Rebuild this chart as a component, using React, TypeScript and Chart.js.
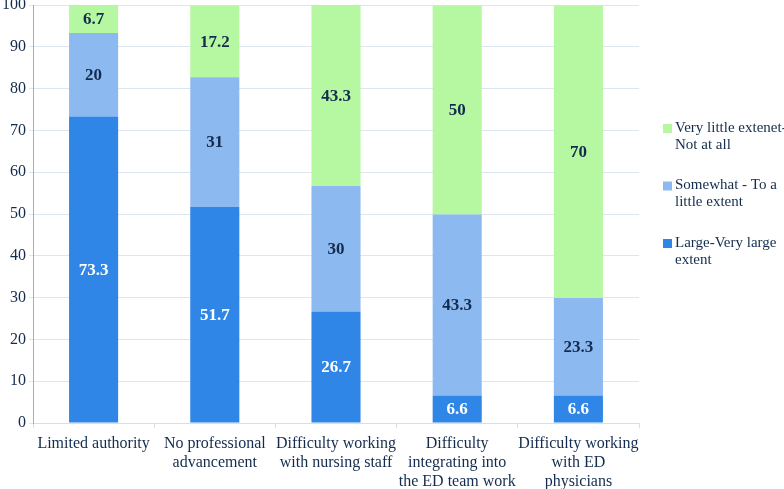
import React, { useEffect, useRef } from "react";
import { Chart, registerables } from "chart.js";

Chart.register(...registerables);

const categories: string[][] = [
  ["Limited authority"],
  ["No professional", "advancement"],
  ["Difficulty working", "with nursing staff"],
  ["Difficulty", "integrating into", "the ED team work"],
  ["Difficulty working", "with ED", "physicians"],
];

const largeExtent = [73.3, 51.7, 26.7, 6.6, 6.6];
const somewhatExtent = [20, 31, 30, 43.3, 23.3];
const littleExtent = [6.7, 17.2, 43.3, 50, 70];

const seriesNames = ["Large-Very large extent", "Somewhat - To a little extent", "Very little extenet-Not at all"];
const legendLines: string[][] = [
  ["Large-Very large", "extent"],
  ["Somewhat - To a", "little extent"],
  ["Very little extenet-", "Not at all"],
];

const yTicks = [0, 10, 20, 30, 40, 50, 60, 70, 80, 90, 100];

const NAVY = "#132C4E";
const FONT = "'Liberation Serif', 'DejaVu Serif', serif";

const valueLabels = {
  id: "valueLabels",
  afterDatasetsDraw(chart: any) {
    const ctx = chart.ctx;
    ctx.save();
    ctx.font = `bold 17px ${FONT}`;
    ctx.textAlign = "center";
    ctx.textBaseline = "middle";
    chart.data.datasets.forEach((ds: any, di: number) => {
      const meta = chart.getDatasetMeta(di);
      meta.data.forEach((bar: any, i: number) => {
        const v = ds.data[i];
        const y = (bar.y + bar.base) / 2;
        ctx.fillStyle = di === 0 ? "#FFFFFF" : NAVY;
        ctx.fillText(String(v), bar.x, y + 1);
      });
    });
    ctx.restore();
  },
};

const sideLegend = {
  id: "sideLegend",
  afterDraw(chart: any) {
    const ctx = chart.ctx;
    ctx.save();
    ctx.font = `15px ${FONT}`;
    ctx.textBaseline = "middle";
    ctx.textAlign = "left";
    const n = chart.data.datasets.length;
    const x = chart.chartArea.right + 24;
    const startY = 128;
    const step = 57.5;
    for (let k = 0; k < n; k++) {
      const di = n - 1 - k;
      const ds = chart.data.datasets[di];
      const y = startY + k * step;
      ctx.fillStyle = ds.backgroundColor;
      ctx.fillRect(x, y - 4, 9, 9);
      ctx.fillStyle = NAVY;
      const lines = legendLines[di];
      lines.forEach((ln, li) => {
        ctx.fillText(ln, x + 12, y + li * 17);
      });
    }
    ctx.restore();
  },
};

export default function App() {
  const ref = useRef<HTMLCanvasElement | null>(null);
  useEffect(() => {
    if (!ref.current) return;
    const chart = new Chart(ref.current, {
      type: "bar",
      data: {
        labels: categories,
        datasets: [
          { label: seriesNames[0], data: largeExtent, backgroundColor: "#2F86E6" },
          { label: seriesNames[1], data: somewhatExtent, backgroundColor: "#8DB9F1" },
          { label: seriesNames[2], data: littleExtent, backgroundColor: "#B6F7A2" },
        ],
      },
      options: {
        responsive: false,
        animation: false,
        maintainAspectRatio: false,
        layout: { padding: { top: 5, right: 145, left: 0, bottom: 0 } },
        datasets: { bar: { categoryPercentage: 1, barPercentage: 0.405 } },
        plugins: { legend: { display: false }, tooltip: { enabled: false } },
        scales: {
          x: {
            stacked: true,
            grid: { display: true, drawOnChartArea: false, offset: true, tickLength: 5, color: "#D9DEE3" },
            border: { color: "#D9DEE3" },
            ticks: { color: NAVY, font: { family: FONT, size: 16 }, padding: 6, maxRotation: 0, autoSkip: false },
            afterFit(scale: any) { scale.height = 66; scale.paddingLeft = 0; scale.paddingRight = 0; },
          },
          y: {
            stacked: true,
            min: 0,
            max: 100,
            afterBuildTicks(scale: any) { scale.ticks = yTicks.map((v) => ({ value: v })); },
            grid: { color: "#DDE6EE", tickLength: 4 },
            border: { color: "#9FB2B2" },
            ticks: { color: NAVY, font: { family: FONT, size: 16 }, padding: 3 },
            afterFit(scale: any) { scale.width = 33; scale.paddingTop = 0; scale.paddingBottom = 0; },
          },
        },
      },
      plugins: [valueLabels, sideLegend],
    });
    return () => chart.destroy();
  }, []);
  return (
    <div style={{ position: "absolute", left: 0, top: 0, width: 784, height: 489, background: "#fff" }}>
      <canvas ref={ref} width={784} height={489} style={{ width: 784, height: 489 }} />
    </div>
  );
}
